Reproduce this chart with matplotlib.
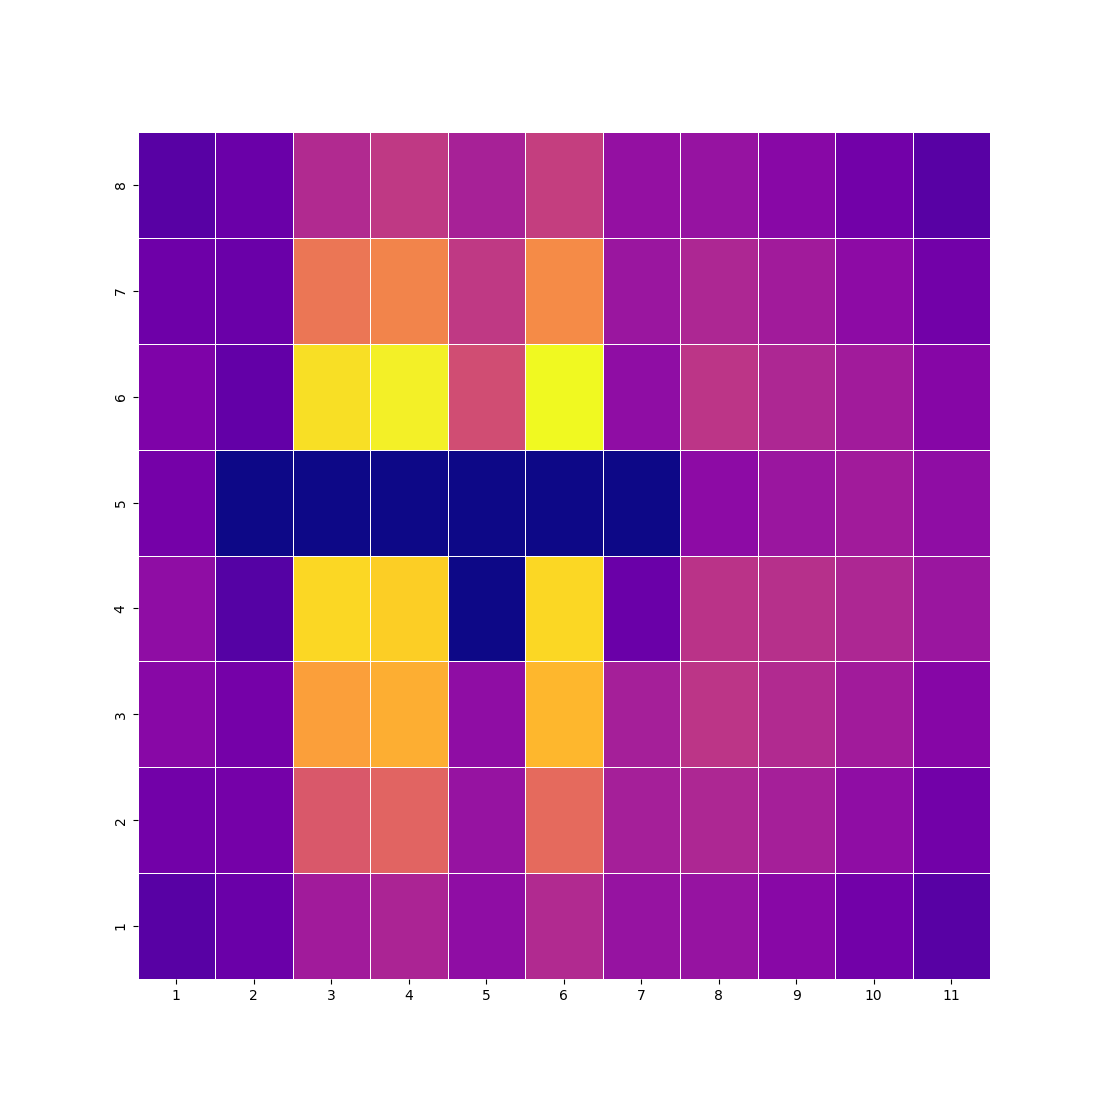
import numpy as np
import matplotlib
matplotlib.use("Agg")
import matplotlib.pyplot as plt
import seaborn as sns

x_labels = [1, 2, 3, 4, 5, 6, 7, 8, 9, 10, 11]
y_labels = [8, 7, 6, 5, 4, 3, 2, 1]  # top row first

row_8 = [0.155, 0.20, 0.40, 0.45, 0.37, 0.47, 0.31, 0.32, 0.28, 0.22, 0.155]
row_7 = [0.21, 0.20, 0.66, 0.70, 0.45, 0.72, 0.33, 0.39, 0.35, 0.29, 0.22]
row_6 = [0.25, 0.18, 0.94, 0.98, 0.52, 1.00, 0.30, 0.44, 0.39, 0.35, 0.27]
row_5 = [0.23, 0.00, 0.00, 0.00, 0.00, 0.00, 0.00, 0.29, 0.33, 0.35, 0.30]
row_4 = [0.30, 0.145, 0.92, 0.90, 0.00, 0.92, 0.20, 0.43, 0.42, 0.39, 0.33]
row_3 = [0.28, 0.23, 0.78, 0.82, 0.30, 0.84, 0.36, 0.44, 0.40, 0.35, 0.27]
row_2 = [0.22, 0.23, 0.56, 0.60, 0.32, 0.62, 0.36, 0.39, 0.36, 0.30, 0.22]
row_1 = [0.155, 0.20, 0.35, 0.38, 0.30, 0.40, 0.32, 0.32, 0.28, 0.22, 0.155]

data = np.array([row_8, row_7, row_6, row_5, row_4, row_3, row_2, row_1])

fig, ax = plt.subplots(figsize=(11, 11), dpi=100)
sns.heatmap(data, cmap="plasma", vmin=0, vmax=1, linewidths=0.5, linecolor="white",
            cbar=False, xticklabels=x_labels, yticklabels=y_labels, ax=ax)
ax.set_aspect("auto")
fig.savefig("out.png")
